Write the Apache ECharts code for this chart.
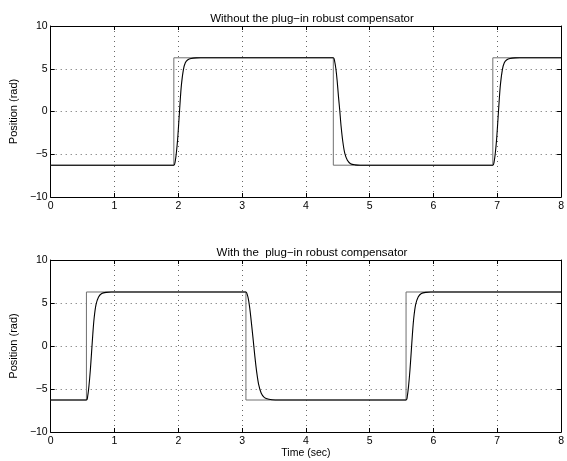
<!DOCTYPE html>
<html>
<head>
<meta charset="utf-8">
<script src="https://cdn.jsdelivr.net/npm/echarts@6/dist/echarts.min.js"></script>
<style>html,body{margin:0;padding:0;background:#fff}#c{width:567px;height:461px}</style>
</head>
<body>
<div id="c"></div>
<script>
var titleTop = "Without the plug\u2212in robust compensator";
var titleBottom = "With the  plug\u2212in robust compensator";
var xLabel = "Time (sec)";
var yLabel = "Position (rad)";
var xTicks = [0, 1, 2, 3, 4, 5, 6, 7, 8];
var yTicks = [-10, -5, 0, 5, 10];

// reference square wave (top)
var topStepT = [0, 1.93, 1.93, 4.43, 4.43, 6.93, 6.93, 8];
var topStepY = [-6.28, -6.28, 6.28, 6.28, -6.28, -6.28, 6.28, 6.28];
// response (top)
var topRespT = [0, 1.93, 1.95, 1.97, 1.99, 2.01, 2.03, 2.05, 2.08, 2.11, 2.15, 2.2, 2.28, 2.35,
  4.43, 4.45, 4.47, 4.49, 4.51, 4.53, 4.55, 4.58, 4.61, 4.65, 4.7, 4.77, 4.85,
  6.93, 6.95, 6.97, 6.99, 7.01, 7.03, 7.05, 7.08, 7.11, 7.15, 7.2, 7.28, 7.35, 8];
var topRespY = [-6.28, -6.28, -5.9, -4.8, -3.2, -1.0, 1.3, 3.2, 4.9, 5.7, 6.05, 6.2, 6.27, 6.28,
  6.28, 5.9, 5.0, 3.6, 1.8, 0.2, -1.6, -3.6, -4.9, -5.7, -6.1, -6.24, -6.28,
  -6.28, -5.9, -4.8, -3.2, -1.0, 1.3, 3.2, 4.9, 5.7, 6.05, 6.2, 6.27, 6.28, 6.28];

// reference square wave (bottom)
var botStepT = [0, 0.56, 0.56, 3.06, 3.06, 5.57, 5.57, 8];
var botStepY = [-6.28, -6.28, 6.28, 6.28, -6.28, -6.28, 6.28, 6.28];
// response (bottom)
var botRespT = [0, 0.56, 0.58, 0.60, 0.62, 0.64, 0.66, 0.68, 0.71, 0.75, 0.8, 0.87, 0.95,
  3.06, 3.08, 3.10, 3.12, 3.14, 3.17, 3.20, 3.23, 3.26, 3.30, 3.35, 3.42, 3.52,
  5.57, 5.59, 5.61, 5.63, 5.65, 5.67, 5.69, 5.72, 5.76, 5.81, 5.88, 5.96, 8];
var botRespY = [-6.28, -6.28, -5.8, -4.6, -2.9, -0.8, 1.4, 3.2, 4.8, 5.7, 6.1, 6.24, 6.28,
  6.28, 6.0, 5.4, 4.4, 3.1, 1.0, -1.2, -3.1, -4.5, -5.5, -6.0, -6.2, -6.28,
  -6.28, -5.8, -4.6, -2.9, -0.8, 1.4, 3.2, 4.8, 5.7, 6.1, 6.24, 6.28, 6.28];

function zip(a, b) { return a.map(function (v, i) { return [v, b[i]]; }); }

var FONT = "Liberation Sans, Arial, Helvetica, sans-serif";
function fmt(v) { return String(v).replace('-', '\u2212'); }

function xAx(gi, main) {
  return {
    type: 'value', gridIndex: gi, min: xTicks[0], max: xTicks[xTicks.length - 1], interval: 1,
    position: main ? 'bottom' : 'top',
    name: (main && gi === 1) ? xLabel : '',
    nameLocation: 'middle', nameGap: 16,
    nameTextStyle: { color: '#000', fontSize: 10.5, fontFamily: FONT },
    axisLine: { show: true, onZero: false, lineStyle: { color: '#000', width: 1 } },
    axisTick: { show: true, inside: true, length: 4, lineStyle: { color: '#000' } },
    axisLabel: { show: main, color: '#000', fontSize: 10.5, fontFamily: FONT, margin: 4, formatter: fmt },
    splitLine: { show: main, lineStyle: { color: '#666', type: [1, 4], width: 1 } }
  };
}
function yAx(gi, main) {
  return {
    type: 'value', gridIndex: gi, min: yTicks[0], max: yTicks[yTicks.length - 1], interval: 5,
    position: main ? 'left' : 'right',
    name: main ? yLabel : '',
    nameLocation: 'middle', nameGap: 27, nameRotate: 90,
    nameTextStyle: { color: '#000', fontSize: 11, fontFamily: FONT },
    axisLine: { show: true, onZero: false, lineStyle: { color: '#000', width: 1 } },
    axisTick: { show: true, inside: true, length: 4, lineStyle: { color: '#000' } },
    axisLabel: { show: main, color: '#000', fontSize: 10.5, fontFamily: FONT, margin: 3, formatter: fmt },
    splitLine: { show: main, lineStyle: { color: '#666', type: [1, 4], width: 1 } }
  };
}

var chart = echarts.init(document.getElementById('c'), null, { renderer: 'canvas' });
chart.setOption({
  backgroundColor: '#fff',
  animation: false,
  title: [
    { text: titleTop, left: 307, top: 8, textAlign: 'center',
      textStyle: { color: '#000', fontSize: 11.5, fontWeight: 'normal', fontFamily: FONT } },
    { text: titleBottom, left: 307, top: 242, textAlign: 'center',
      textStyle: { color: '#000', fontSize: 11.5, fontWeight: 'normal', fontFamily: FONT } }
  ],
  grid: [
    { left: 47, top: 26, width: 517, height: 171 },
    { left: 47, top: 260, width: 517, height: 172 }
  ],
  xAxis: [xAx(0, true), xAx(0, false), xAx(1, true), xAx(1, false)],
  yAxis: [yAx(0, true), yAx(0, false), yAx(1, true), yAx(1, false)],
  series: [
    { type: 'line', xAxisIndex: 0, yAxisIndex: 0, data: zip(topStepT, topStepY), showSymbol: false,
      lineStyle: { color: '#707070', width: 1 }, z: 2 },
    { type: 'line', xAxisIndex: 0, yAxisIndex: 0, data: zip(topRespT, topRespY), showSymbol: false, smooth: 0.3,
      lineStyle: { color: '#000', width: 1.1 }, z: 3 },
    { type: 'line', xAxisIndex: 2, yAxisIndex: 2, data: zip(botStepT, botStepY), showSymbol: false,
      lineStyle: { color: '#707070', width: 1 }, z: 2 },
    { type: 'line', xAxisIndex: 2, yAxisIndex: 2, data: zip(botRespT, botRespY), showSymbol: false, smooth: 0.3,
      lineStyle: { color: '#000', width: 1.1 }, z: 3 }
  ]
});
</script>
</body>
</html>
